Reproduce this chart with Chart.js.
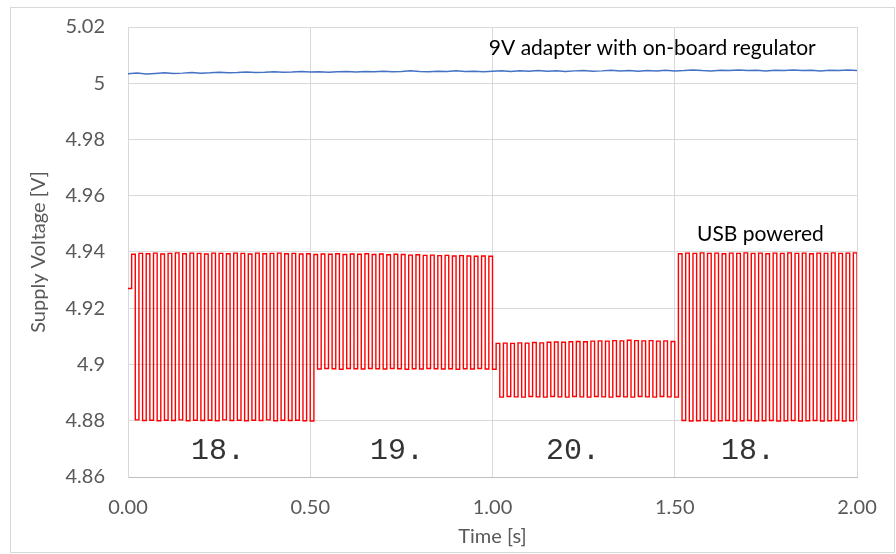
<!DOCTYPE html>
<html>
<head>
<meta charset="utf-8">
<script src="https://cdn.jsdelivr.net/npm/chart.js@4"></script>
<style>
  html, body { margin: 0; padding: 0; background: #ffffff; }
  #wrap { width: 896px; height: 554px; }
</style>
</head>
<body>
<div id="wrap"><canvas id="supplyChart" width="896" height="554"></canvas></div>
<script>
// 9V adapter trace, one reading every 25 ms
const adapterStep = 0.025;
const adapterVolts = [
  5.0034, 5.0036, 5.0033, 5.0035, 5.0037, 5.0035, 5.0036, 5.0038, 5.0036, 5.0037,
  5.0039, 5.0037, 5.0038, 5.0040, 5.0038, 5.0039, 5.0041, 5.0039, 5.0040, 5.0042,
  5.0040, 5.0041, 5.0039, 5.0041, 5.0042, 5.0040, 5.0042, 5.0041, 5.0043, 5.0041,
  5.0042, 5.0044, 5.0042, 5.0041, 5.0043, 5.0042, 5.0044, 5.0042, 5.0043, 5.0041,
  5.0043, 5.0044, 5.0042, 5.0044, 5.0043, 5.0045, 5.0043, 5.0044, 5.0042, 5.0044,
  5.0045, 5.0043, 5.0044, 5.0046, 5.0044, 5.0045, 5.0043, 5.0045, 5.0044, 5.0046,
  5.0044, 5.0045, 5.0047, 5.0045, 5.0044, 5.0046, 5.0045, 5.0047, 5.0045, 5.0046,
  5.0044, 5.0046, 5.0045, 5.0047, 5.0045, 5.0046, 5.0044, 5.0046, 5.0045, 5.0047,
  5.0045
];

// USB trace, one reading every 10 ms (multiplexed display load)
const usbStep = 0.01;
const usbVolts = [
  4.9270,
  4.9392, 4.8803, 4.9395, 4.8801, 4.9394, 4.8802, 4.9396, 4.8800, 4.9393, 4.8802,
  4.9395, 4.8801, 4.9397, 4.8803, 4.9394, 4.8800, 4.9396, 4.8802, 4.9395, 4.8801,
  4.9393, 4.8802, 4.9396, 4.8800, 4.9395, 4.8803, 4.9394, 4.8801, 4.9396, 4.8802,
  4.9395, 4.8800, 4.9393, 4.8802, 4.9396, 4.8801, 4.9394, 4.8803, 4.9395, 4.8800,
  4.9396, 4.8802, 4.9394, 4.8801, 4.9395, 4.8802, 4.9393, 4.8800, 4.9394, 4.8799,
  4.9391, 4.8984, 4.9393, 4.8986, 4.9392, 4.8985, 4.9394, 4.8983, 4.9391, 4.8986,
  4.9393, 4.8985, 4.9392, 4.8984, 4.9394, 4.8986, 4.9391, 4.8985, 4.9393, 4.8984,
  4.9390, 4.8986, 4.9392, 4.8985, 4.9391, 4.8983, 4.9389, 4.8985, 4.9390, 4.8984,
  4.9388, 4.8986, 4.9389, 4.8985, 4.9387, 4.8984, 4.9388, 4.8985, 4.9386, 4.8983,
  4.9387, 4.8985, 4.9386, 4.8984, 4.9385, 4.8986, 4.9386, 4.8984, 4.9385, 4.8983,
  4.9075, 4.8884, 4.9076, 4.8886, 4.9075, 4.8885, 4.9077, 4.8884, 4.9076, 4.8886,
  4.9078, 4.8885, 4.9077, 4.8884, 4.9079, 4.8886, 4.9080, 4.8885, 4.9079, 4.8884,
  4.9081, 4.8886, 4.9082, 4.8885, 4.9081, 4.8884, 4.9083, 4.8886, 4.9084, 4.8885,
  4.9083, 4.8884, 4.9085, 4.8886, 4.9084, 4.8885, 4.9086, 4.8884, 4.9085, 4.8886,
  4.9084, 4.8885, 4.9085, 4.8884, 4.9083, 4.8886, 4.9084, 4.8885, 4.9082, 4.8884,
  4.9394, 4.8801, 4.9396, 4.8799, 4.9395, 4.8800, 4.9397, 4.8801, 4.9395, 4.8799,
  4.9396, 4.8800, 4.9394, 4.8801, 4.9396, 4.8799, 4.9395, 4.8800, 4.9397, 4.8801,
  4.9395, 4.8799, 4.9396, 4.8800, 4.9394, 4.8801, 4.9396, 4.8799, 4.9395, 4.8800,
  4.9397, 4.8801, 4.9395, 4.8799, 4.9396, 4.8800, 4.9394, 4.8801, 4.9396, 4.8799,
  4.9395, 4.8800, 4.9397, 4.8801, 4.9395, 4.8799, 4.9396, 4.8800, 4.9397, 4.8801
];

const seriesNames = ["9V adapter with on-board regulator", "USB powered"];
const segmentLabels = ["18.", "19.", "20.", "18."];
const xTicks = [0, 0.5, 1.0, 1.5, 2.0];

const tickColor = "#595959";
const gridColor = "#d9d9d9";

const toPoints = (vals, step) => vals.map((v, i) => ({ x: i * step, y: v }));

// where the in-chart notes sit (data coordinates)
const seriesNotePos = [{ x: 0.99, y: 5.0125 }, { x: 1.561, y: 4.9464 }];
const segmentNotePos = [0.247, 0.738, 1.221, 1.701];
const segmentNoteY = 4.8692;

const notes = {
  id: "notes",
  beforeDraw(chart) {
    const ctx = chart.ctx;
    ctx.save();
    ctx.strokeStyle = gridColor;
    ctx.lineWidth = 1;
    ctx.strokeRect(10.5, 7.5, 884, 545);
    ctx.restore();
  },
  afterDatasetsDraw(chart) {
    const { ctx, scales: { x, y } } = chart;
    ctx.save();
    ctx.fillStyle = "#000000";
    ctx.font = "21px Lato";
    ctx.textAlign = "left";
    ctx.textBaseline = "middle";
    seriesNames.forEach((name, i) => {
      ctx.fillText(name, x.getPixelForValue(seriesNotePos[i].x), y.getPixelForValue(seriesNotePos[i].y));
    });
    ctx.font = "30px 'Liberation Mono'";
    ctx.fillStyle = "#333333";
    ctx.textAlign = "center";
    segmentLabels.forEach((lbl, i) => {
      ctx.fillText(lbl, x.getPixelForValue(segmentNotePos[i]), y.getPixelForValue(segmentNoteY));
    });
    ctx.restore();
  }
};

new Chart(document.getElementById("supplyChart"), {
  type: "line",
  data: {
    datasets: [
      {
        label: seriesNames[1],
        data: toPoints(usbVolts, usbStep),
        borderColor: "#ff0000",
        borderWidth: 1.4,
        stepped: "before",
        pointRadius: 0,
        fill: false
      },
      {
        label: seriesNames[0],
        data: toPoints(adapterVolts, adapterStep),
        borderColor: "#4472c4",
        borderWidth: 1.5,
        pointRadius: 0,
        tension: 0,
        fill: false
      }
    ]
  },
  options: {
    responsive: false,
    animation: false,
    layout: { padding: { top: 27, right: 39, left: 0, bottom: 0 } },
    plugins: {
      legend: { display: false },
      tooltip: { enabled: false }
    },
    scales: {
      x: {
        type: "linear",
        min: 0,
        max: 2,
        afterFit: (s) => { s.height = 77; },
        afterBuildTicks: (s) => { s.ticks = xTicks.map(v => ({ value: v })); },
        ticks: {
          color: tickColor,
          font: { family: "Lato", size: 20 },
          padding: 19,
          maxRotation: 0,
          callback: (v) => Number(v).toFixed(2)
        },
        grid: { color: gridColor, drawTicks: false },
        border: { color: "#bfbfbf" },
        title: {
          display: true,
          text: "Time [s]",
          color: tickColor,
          font: { family: "Lato", size: 20 },
          padding: { top: 0, bottom: 5 }
        }
      },
      y: {
        min: 4.86,
        max: 5.02,
        afterFit: (s) => {
          s.width = 128;
          s.paddingTop = 0;
          s.paddingBottom = 0;
        },
        ticks: {
          stepSize: 0.02,
          color: tickColor,
          font: { family: "Lato", size: 20 },
          padding: 23,
          callback: (v) => String(Number(Number(v).toFixed(2)))
        },
        grid: { color: gridColor, drawTicks: false },
        border: { color: gridColor },
        title: {
          display: true,
          text: "Supply Voltage [V]",
          color: tickColor,
          font: { family: "Lato", size: 20 },
          padding: { top: 27, bottom: 0 }
        }
      }
    }
  },
  plugins: [notes]
});
</script>
</body>
</html>
